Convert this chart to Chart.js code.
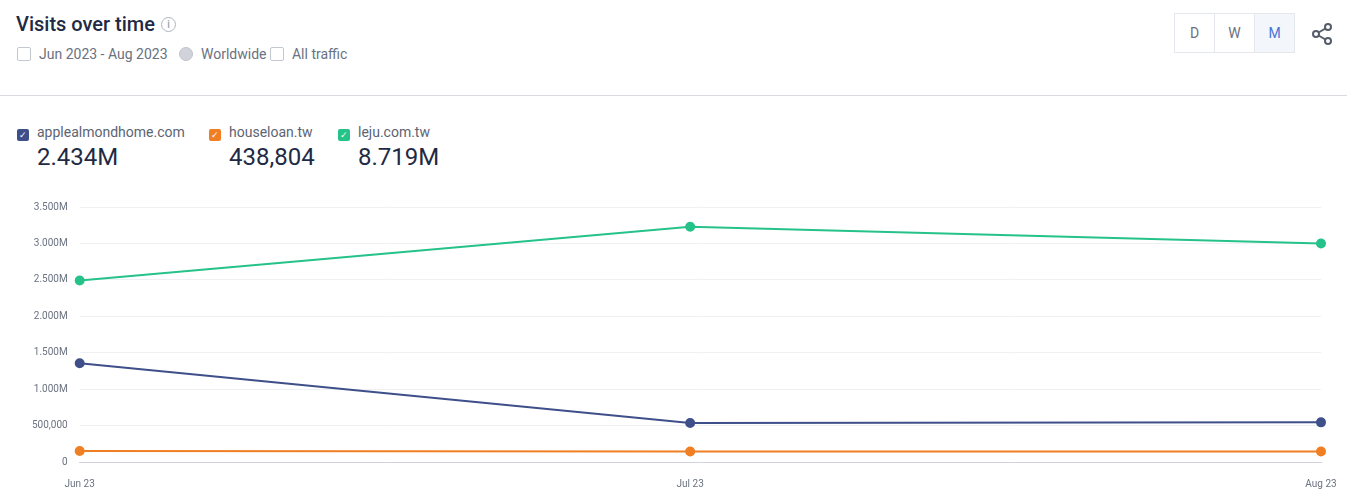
<!DOCTYPE html>
<html>
<head>
<meta charset="utf-8">
<script src="https://cdn.jsdelivr.net/npm/chart.js@4"></script>
<style>
  body { margin:0; width:1347px; height:494px; background:#fff; font-family:Roboto, sans-serif; position:relative; overflow:hidden; }
  .title { position:absolute; left:16px; top:12px; font-size:20px; font-weight:500; color:#1f2a44; }
  .title span { display:inline-block; width:13px; height:13px; border:1.5px solid #b0b6c0; border-radius:50%; font-size:10px; color:#9aa1ab; text-align:center; line-height:13px; margin-left:6px; vertical-align:3px; }
  .sub { position:absolute; left:17px; top:46px; font-size:14px; color:#6a7280; }
  .sub i { display:inline-block; width:12px; height:12px; border:1.5px solid #c3c8cf; border-radius:2px; margin:0 8px -2px 0; }
  .sub i.g { border-radius:50%; background:#d0d4da; border-color:#c0c5cc; margin-left:8px; }
  .btns { position:absolute; left:1174px; top:13px; display:flex; border:1px solid #e4e7eb; }
  .btns div { width:39px; height:38px; line-height:38px; text-align:center; font-size:14px; color:#6a7280; border-left:1px solid #e4e7eb; }
  .btns div:first-child { border-left:none; }
  .btns div.on { background:#f3f7fc; color:#4a73d4; }
  .hr { position:absolute; left:0; right:0; top:95px; border-top:1px solid #d8dbe0; }
  .leg { position:absolute; top:124px; font-size:14px; color:#5c6472; }
  .leg b { display:inline-block; width:12px; height:12px; border-radius:2px; margin-right:8px; vertical-align:-1px; color:#fff; font-size:9px; line-height:12px; text-align:center; font-weight:400; }
  .leg .v { font-size:24px; color:#1f2a44; margin:2px 0 0 20px; }
  #wrap { position:absolute; left:0; top:189px; width:1347px; height:313px; }
</style>
</head>
<body>
<div class="title">Visits over time<span>i</span></div>
<div class="sub"><i></i>Jun 2023 - Aug 2023 <i class="g"></i>Worldwide <i></i>All traffic</div>
<div class="btns"><div>D</div><div>W</div><div class="on">M</div></div>
<svg style="position:absolute;left:1310px;top:22px" width="24" height="24" viewBox="0 0 24 24" fill="none" stroke="#555d68" stroke-width="2"><circle cx="18" cy="5" r="3"/><circle cx="6" cy="12" r="3"/><circle cx="18" cy="19" r="3"/><line x1="8.6" y1="10.5" x2="15.4" y2="6.5"/><line x1="8.6" y1="13.5" x2="15.4" y2="17.5"/></svg>
<div class="hr"></div>
<div class="leg" style="left:17px"><b style="background:#3e4f8a">✓</b>applealmondhome.com<div class="v">2.434M</div></div>
<div class="leg" style="left:209px"><b style="background:#f07f24">✓</b>houseloan.tw<div class="v">438,804</div></div>
<div class="leg" style="left:338px"><b style="background:#25c28a">✓</b>leju.com.tw<div class="v">8.719M</div></div>
<div id="wrap"><canvas id="visits-chart"></canvas></div>
<script>
// visits per month (x = days since Jun 1 2023)
const MONTHS = ['Jun 23', 'Jul 23', 'Aug 23'];
const DAYS = [0, 30, 61];
const APPLE = [1355000, 535000, 544000];
const HOUSELOAN = [150000, 145000, 143804];
const LEJU = [2490000, 3230000, 3000000];

function line(label, values, color) {
    return {
        label: label,
        data: values.map((v, i) => ({ x: DAYS[i], y: v })),
        borderColor: color,
        backgroundColor: color,
        borderWidth: 2,
        pointRadius: 4,
        pointHoverRadius: 5,
        tension: 0,
        clip: false,
    };
}

const visitsChart = new Chart(document.getElementById('visits-chart'), {
    type: 'line',
    data: {
        datasets: [
            line('applealmondhome.com', APPLE, '#3e4f8a'),
            line('houseloan.tw', HOUSELOAN, '#f07f24'),
            line('leju.com.tw', LEJU, '#25c28a'),
        ],
    },
    options: {
        responsive: true,
        maintainAspectRatio: false,
        animation: false,
        layout: { padding: { left: 20, right: 26, top: 4, bottom: 4 } },
        plugins: { legend: { display: false }, tooltip: { enabled: false } },
        scales: {
            x: {
                type: 'linear',
                min: DAYS[0],
                max: DAYS[DAYS.length - 1],
                afterBuildTicks: axis => { axis.ticks = DAYS.map(d => ({ value: d })); },
                grid: { display: false },
                border: { color: '#d0d4da' },
                ticks: {
                    color: '#6a7280',
                    font: { size: 10, family: 'Roboto' },
                    padding: 8,
                    maxRotation: 0,
                    callback: v => MONTHS[DAYS.indexOf(v)],
                },
            },
            y: {
                min: 0,
                max: 3500000,
                grid: { color: '#eef0f3', drawTicks: false },
                border: { display: false },
                ticks: {
                    stepSize: 500000,
                    color: '#6a7280',
                    padding: 12,
                    font: { size: 10, family: 'Roboto' },
                    callback: v => v >= 1e6 ? (v / 1e6).toFixed(3) + 'M' : v.toLocaleString('en-US'),
                },
            },
        },
    },
});
</script>
</body>
</html>
